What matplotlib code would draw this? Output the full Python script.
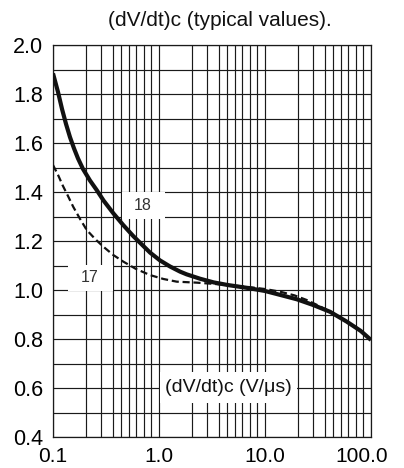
import numpy as np
import matplotlib
matplotlib.use("Agg")
import matplotlib.pyplot as plt
from matplotlib.patches import Rectangle
from matplotlib.transforms import ScaledTranslation

plt.rcParams['font.family'] = ['Liberation Sans', 'DejaVu Sans']

# ---- data ----
x18 = [0.1, 0.1115, 0.1216, 0.1326, 0.1446, 0.1578, 0.1721, 0.1918, 0.2232, 0.2583, 0.30, 0.371,
       0.46, 0.572, 0.822, 1.02, 1.27, 1.58, 1.82, 2.44, 3.28, 4.5, 6.71, 10.0, 13.9, 20.0,
       28.4, 41.1, 59.0, 80.0, 100.0]
y18 = [1.884, 1.808, 1.739, 1.678, 1.624, 1.578, 1.537, 1.494, 1.447, 1.408, 1.365, 1.313,
       1.265, 1.220, 1.153, 1.121, 1.096, 1.075, 1.064, 1.046, 1.031, 1.020, 1.009, 0.996, 0.980, 0.962,
       0.939, 0.911, 0.871, 0.833, 0.796]

x17 = [0.1, 0.112, 0.124, 0.138, 0.155, 0.18, 0.208, 0.25, 0.298, 0.37, 0.46, 0.6, 0.822,
       1.1, 1.47, 2.27, 3.28, 4.5, 6.71, 10.0, 13.9, 19.0, 24.8, 32.0, 41.0]
y17 = [1.51, 1.468, 1.425, 1.385, 1.34, 1.29, 1.245, 1.208, 1.177, 1.143, 1.116, 1.087, 1.061,
       1.045, 1.034, 1.030, 1.025, 1.020, 1.013, 1.004, 0.993, 0.978, 0.959, 0.936, 0.912]

label18 = "18"
label17 = "17"
title_text = "(dV/dt)c (typical values)."
axis_text = "(dV/dt)c (V/\u03bcs)"

xtick_vals = [0.1, 1.0, 10.0, 100.0]
xtick_labels = ["0.1", "1.0", "10.0", "100.0"]
ytick_vals = [0.4, 0.6, 0.8, 1.0, 1.2, 1.4, 1.6, 1.8, 2.0]
ytick_labels = ["0.4", "0.6", "0.8", "1.0", "1.2", "1.4", "1.6", "1.8", "2.0"]

# grid line positions within each decade (fraction of decade, as drawn in the reference)
grid_frac = [0.309, 0.453, 0.565, 0.64, 0.715, 0.785, 0.858, 0.929]

# ---- figure ----
W, H = 404, 468
fig = plt.figure(figsize=(W / 100, H / 100), dpi=100)
ax = fig.add_axes([53 / W, 1 - 437 / H, (371 - 53) / W, (437 - 45) / H])

ax.set_xscale('log')
ax.set_xlim(0.1, 100)
ax.set_ylim(0.4, 2.0)

minor_x = [10 ** (d + f) for d in (-1, 0, 1) for f in grid_frac]
ax.set_xticks(xtick_vals)
ax.set_xticklabels(xtick_labels)
ax.set_xticks(minor_x, minor=True)
ax.set_xticklabels([], minor=True)
ax.set_yticks(ytick_vals)
ax.set_yticklabels(ytick_labels)
ax.set_yticks(np.arange(0.5, 2.0, 0.2), minor=True)

ax.tick_params(which='both', length=0)
ax.tick_params(axis='x', which='major', pad=7.5, labelsize=15)
ax.tick_params(axis='y', which='major', pad=7, labelsize=15.5)

ax.set_axisbelow(True)
ax.grid(which='both', color='#1a1a1a', linewidth=0.85)
for s in ax.spines.values():
    s.set_color('#1a1a1a')
    s.set_linewidth(0.9)

# white label boxes
ax.add_patch(Rectangle((0.448, 1.29), 1.139 - 0.448, 0.11, facecolor='white', edgecolor='none', zorder=1))
ax.add_patch(Rectangle((0.139, 0.995), 0.368 - 0.139, 0.107, facecolor='white', edgecolor='none', zorder=1))
ax.add_patch(Rectangle((1.02, 0.539), 19.9 - 1.02, 0.126, facecolor='white', edgecolor='none', zorder=1))

ax.plot(x17, y17, color='#111111', linewidth=1.6, linestyle=(0, (3.2, 1.7)), zorder=3)
ax.plot(x18, y18, color='#111111', linewidth=3.0, zorder=4, solid_capstyle='butt',
        solid_joinstyle='round')

ax.text(0.707, 1.343, label18, fontsize=11.5, ha='center', va='center', color='#333333', zorder=5)
ax.text(0.223, 1.053, label17, fontsize=11.5, ha='center', va='center', color='#333333', zorder=5)
ax.text(4.48, 0.6, axis_text, fontsize=14, ha='center', va='center', color='#111111', zorder=5)

fig.text(219.5 / W, 1 - 20 / H, title_text, fontsize=15, ha='center', va='center', color='#111111')

# last x label shifted left as in reference
lbls = ax.get_xticklabels()
lbls[-1].set_transform(lbls[-1].get_transform() + ScaledTranslation(-9.5 / 100, 0, fig.dpi_scale_trans))

fig.savefig('out.png', dpi=100)
